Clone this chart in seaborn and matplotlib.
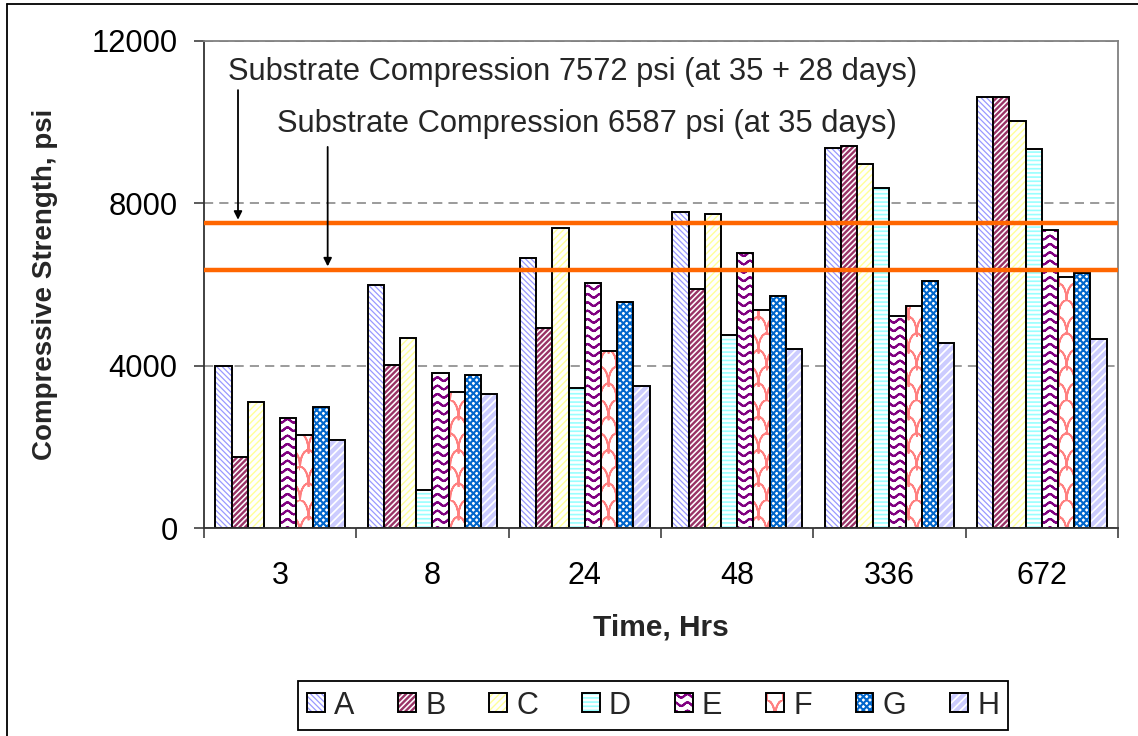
import warnings
import numpy as np
import pandas as pd
import matplotlib
matplotlib.use("Agg")
import matplotlib.pyplot as plt
import matplotlib.hatch as mhatch
import matplotlib.colors as mcolors
import matplotlib.transforms as mtransforms
from matplotlib.path import Path
from matplotlib.patches import Patch
from matplotlib.lines import Line2D
import seaborn as sns

warnings.filterwarnings("ignore", message=".*hatch must consist.*")

# ---------------- data ----------------
times = ["3", "8", "24", "48", "336", "672"]
series = ["A", "B", "C", "D", "E", "F", "G", "H"]
A = [4000, 5990, 6660, 7780, 9360, 10620]
B = [1760, 4020, 4940, 5890, 9420, 10620]
C = [3100, 4690, 7380, 7730, 8980, 10030]
D = [np.nan, 943, 3450, 4750, 8390, 9350]
E = [2720, 3820, 6045, 6770, 5230, 7340]
F = [2300, 3350, 4360, 5365, 5475, 6180]
G = [2970, 3770, 5580, 5710, 6090, 6275]
H = [2160, 3300, 3500, 4410, 4560, 4650]
y_ticks = [0, 4000, 8000, 12000]
ref_lines = [7510, 6360]
ref_labels = ["Substrate Compression 7572 psi (at 35 + 28 days)",
              "Substrate Compression 6587 psi (at 35 days)"]

series_values = [A, B, C, D, E, F, G, H]
rows = []
for s, vals in zip(series, series_values):
    for t, v in zip(times, vals):
        rows.append({"Time": t, "Series": s, "Strength": v})
df = pd.DataFrame(rows)

# ---------------- custom hatches (wave, scales) ----------------
# paths are traced forward and back so that Agg's hatch fill has zero area
class WaveHatch(mhatch.HatchPatternBase):
    def __init__(self, hatch, density):
        self.num_rows = int(hatch.count("w") * density)
        self.periods = 8
        self.per = 8
        self.npts = self.periods * self.per + 1
        self.num_vertices = self.num_rows * self.npts * 2

    def set_vertices_and_codes(self, vertices, codes):
        xs = np.linspace(0, 1, self.npts)
        step = 1.0 / self.num_rows
        amp = 0.22 * step
        n = self.npts * 2
        for i in range(self.num_rows):
            ys = (i + 0.5) * step + amp * np.cos(2 * np.pi * self.periods * xs)
            sl = slice(i * n, (i + 1) * n)
            vertices[sl, 0] = np.concatenate([xs, xs[::-1]])
            vertices[sl, 1] = np.concatenate([ys, ys[::-1]])
            codes[sl] = Path.LINETO
            codes[i * n] = Path.MOVETO


class ScaleHatch(mhatch.HatchPatternBase):
    def __init__(self, hatch, density):
        self.num_rows = int(hatch.count("c") * density)
        self.arcs = 6
        self.per = 10
        self.num_vertices = self.num_rows * (self.arcs + 1) * self.per * 2

    def set_vertices_and_codes(self, vertices, codes):
        step = 1.0 / self.num_rows
        w = 1.0 / self.arcs
        t = np.linspace(np.pi, 0, self.per)
        n = self.per * 2
        k = 0
        for i in range(self.num_rows):
            off = 0.0 if i % 2 else w / 2
            for j in range(self.arcs + 1):
                xc = off + j * w
                xs = xc + (w / 2) * np.cos(t)
                ys = i * step + step * np.sin(t)
                vertices[k:k + n, 0] = np.concatenate([xs, xs[::-1]])
                vertices[k:k + n, 1] = np.concatenate([ys, ys[::-1]])
                codes[k:k + n] = Path.LINETO
                codes[k] = Path.MOVETO
                k += n


mhatch._hatch_types.append(WaveHatch)
mhatch._hatch_types.append(ScaleHatch)

# style per series: (face, hatch, hatch colour, hatch linewidth)
styles = {
    "A": ("#FFFFFF", "\\" * 6, "#9999FF", 0.9),
    "B": ("#FFFFFF", "/" * 6, "#993366", 1.7),
    "C": ("#FFFFFF", "/" * 5, "#FFFF99", 1.0),
    "D": ("#FFFFFF", "----", "#99FFFF", 1.2),
    "E": ("#FFFFFF", "ww", "#800080", 1.5),
    "F": ("#FFFFFF", "c", "#FF8080", 1.3),
    "G": ("#FFFFFF", "x" * 5, "#0066CC", 1.5),
    "H": ("#FFFFFF", "////", "#CCCCFF", 3.0),
}


def style_patch(p, s):
    face, hatch, hcol, hlw = styles[s]
    p.set_facecolor(face)
    p.set_edgecolor("black")
    p.set_hatch(hatch)
    rgba = mcolors.to_rgba(hcol)
    if hasattr(p, "set_hatchcolor"):
        p.set_hatchcolor(rgba)
    else:
        p._hatch_color = rgba
    if hasattr(p, "set_hatch_linewidth"):
        p.set_hatch_linewidth(hlw)
    else:
        p._hatch_linewidth = hlw


# ---------------- figure ----------------
sns.set_style("white")
plt.rcParams["font.family"] = ["Liberation Sans", "DejaVu Sans"]
plt.rcParams["hatch.linewidth"] = 1.2

fig = plt.figure(figsize=(11.38, 7.36), dpi=100)
ax = fig.add_axes([204 / 1138, 1 - 528 / 736, 914 / 1138, 487 / 736])

palette = {s: styles[s][0] for s in series}
sns.barplot(data=df, x="Time", y="Strength", hue="Series", order=times,
            hue_order=series, palette=palette, width=0.85, edgecolor="black",
            linewidth=1.4, errorbar=None, legend=False, saturation=1, ax=ax)

for cont, s in zip(ax.containers, series):
    for p in cont:
        style_patch(p, s)
        p.set_zorder(2)

# axes limits / ticks
ax.set_xlim(-0.5, len(times) - 0.5)
ax.set_ylim(y_ticks[0], y_ticks[-1])
ax.set_yticks(y_ticks)
ax.set_yticklabels([str(v) for v in y_ticks])
ax.set_xticks(range(len(times)))
ax.set_xticklabels(times)
ax.set_xticks(np.arange(-0.5, len(times)), minor=True)
ax.tick_params(axis="x", which="major", length=0, pad=24, labelsize=22, colors="black")
ax.tick_params(axis="x", which="minor", length=7, width=1.2, color="#404040", direction="out")
ax.tick_params(axis="y", which="major", length=7, width=1.2, color="#404040",
               direction="out", pad=12, labelsize=22.3, labelcolor="black")
ax.tick_params(bottom=True, left=True, which="both")

ax.yaxis.grid(True, linestyle=(0, (6, 4)), color="#808080", linewidth=1.1)
ax.xaxis.grid(False)
ax.set_axisbelow(True)

for side in ["left", "bottom"]:
    ax.spines[side].set_color("#333333")
    ax.spines[side].set_linewidth(1.3)
for side in ["top", "right"]:
    ax.spines[side].set_color("#808080")
    ax.spines[side].set_linewidth(1.3)

ax.set_xlabel("Time, Hrs", fontsize=21.5, fontweight="bold")
ax.set_ylabel("Compressive Strength, psi", fontsize=20, fontweight="bold")
ax.xaxis.set_label_coords(0.5, -0.176)
ax.yaxis.set_label_coords(-0.160, 0.5)

# reference lines and annotations
trans = mtransforms.blended_transform_factory(ax.transAxes, ax.transData)
for v in ref_lines:
    ax.axhline(v, color="#FF6600", linewidth=3.2, zorder=4)

ax.text(0.0263, 11230, ref_labels[0], transform=trans, fontsize=22.2,
        ha="left", va="center", zorder=5)
ax.text(0.0799, 9950, ref_labels[1], transform=trans, fontsize=22.2,
        ha="left", va="center", zorder=5)

arrow_kw = dict(arrowstyle="-|>", color="black", lw=1.3, mutation_scale=12,
                shrinkA=0, shrinkB=2.5)
ax.annotate("", xy=(0.0372, ref_lines[0]), xycoords=("axes fraction", "data"),
            xytext=(0.0372, 10790), textcoords=("axes fraction", "data"),
            arrowprops=arrow_kw, zorder=5)
ax.annotate("", xy=(0.1353, ref_lines[1]), xycoords=("axes fraction", "data"),
            xytext=(0.1353, 9390), textcoords=("axes fraction", "data"),
            arrowprops=arrow_kw, zorder=5)

# legend
handles = [Patch(facecolor=styles[s][0], edgecolor="black", hatch=styles[s][1],
                 linewidth=1.4, label=s) for s in series]
leg = fig.legend(handles=handles, loc="center", ncol=8,
                 bbox_to_anchor=(653 / 1138, 1 - 705.5 / 736),
                 bbox_transform=fig.transFigure, fontsize=22,
                 handlelength=0.58, handleheight=0.58, handletextpad=0.3,
                 columnspacing=1.44, borderpad=0.3, frameon=True, fancybox=False,
                 framealpha=1, edgecolor="black")
leg.get_frame().set_linewidth(1.3)
for p, s in zip(leg.get_patches(), series):
    style_patch(p, s)

# outer chart border (left and top visible)
fig.add_artist(Line2D([7 / 1138, 7 / 1138], [0, 1 - 4 / 736],
                      transform=fig.transFigure, color="black", lw=1.3))
fig.add_artist(Line2D([7 / 1138, 1], [1 - 4 / 736, 1 - 4 / 736],
                      transform=fig.transFigure, color="black", lw=1.3))

fig.savefig("out.png", dpi=100)
